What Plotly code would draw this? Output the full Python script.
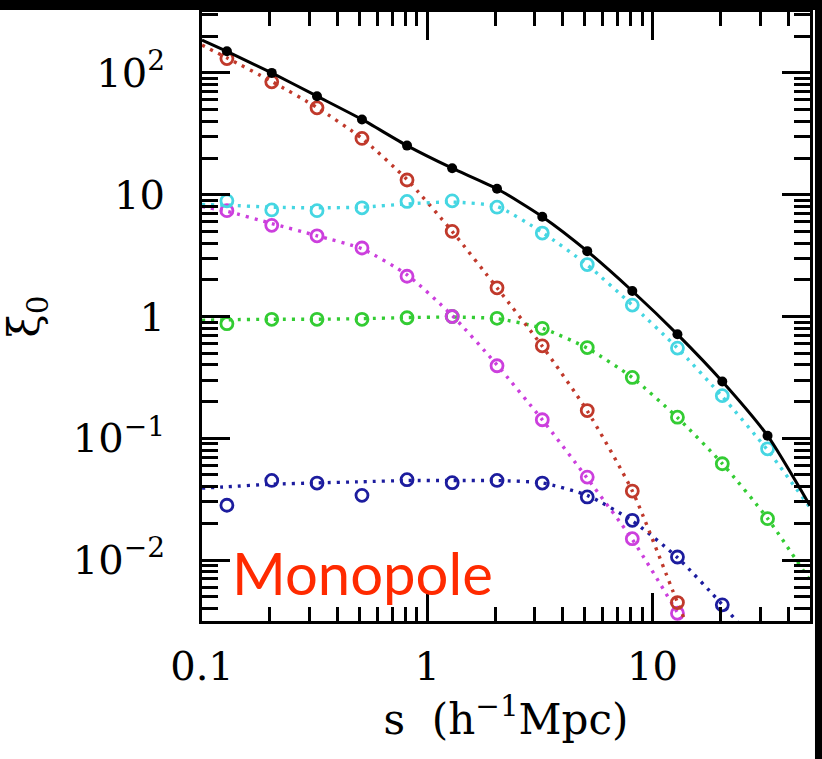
import plotly.graph_objects as go

# Separation bins (h^-1 Mpc)
s_pts = [0.129, 0.204, 0.324, 0.513, 0.813, 1.29, 2.04, 3.24, 5.13, 8.13, 12.9, 20.4, 32.4]
# Grid for the model curves (extends to the axis limits)
s_model = [0.1, 0.129, 0.204, 0.324, 0.513, 0.813, 1.29, 2.04, 3.24, 5.13, 8.13, 12.9, 20.4, 32.4, 50]

# Measured monopole, total and components
xi_total = [150.6, 100, 64.4, 41.5, 25.3, 16.5, 11.2, 6.6, 3.44, 1.62, 0.714, 0.293, 0.105]
xi_red = [131, 84.4, 51.7, 29.0, 13.2, 5.0, 1.72, 0.574, 0.169, 0.0369, 0.00448]
xi_cyan = [8.9, 7.5, 7.4, 7.8, 8.8, 8.9, 7.9, 4.84, 2.67, 1.24, 0.55, 0.224, 0.082]
xi_magenta = [7.4, 5.6, 4.6, 3.65, 2.14, 1.0, 0.394, 0.142, 0.048, 0.0150, 0.00366]
xi_green = [0.873, 0.948, 0.948, 0.948, 0.977, 1.0, 0.966, 0.80, 0.556, 0.316, 0.149, 0.0618, 0.0219]
xi_blue = [0.0282, 0.0451, 0.0429, 0.034, 0.0457, 0.0432, 0.0451, 0.0429, 0.033, 0.0212, 0.0106, 0.00429]

# Model curves on s_model
mod_total = [186, 150, 100, 64.4, 41.5, 25.3, 16.5, 11.2, 6.6, 3.44, 1.62, 0.714, 0.293, 0.105, 0.028]
mod_red = [169, 133, 85, 52, 29, 13.3, 5.0, 1.72, 0.57, 0.168, 0.037, 0.0045, 0.0006]
mod_cyan = [8.3, 8.2, 7.9, 7.8, 7.9, 8.4, 8.7, 8.0, 4.9, 2.65, 1.24, 0.55, 0.22, 0.08, 0.027]
mod_magenta = [8.0, 7.3, 5.8, 4.6, 3.6, 2.2, 1.02, 0.4, 0.142, 0.047, 0.0148, 0.0037, 0.0008]
mod_green = [0.93, 0.94, 0.95, 0.95, 0.96, 0.98, 0.99, 0.96, 0.80, 0.55, 0.315, 0.148, 0.062, 0.022, 0.0068]
mod_blue = [0.039, 0.040, 0.042, 0.043, 0.044, 0.045, 0.045, 0.045, 0.043, 0.034, 0.021, 0.0105, 0.0043, 0.0016]

x_major = [0.1, 1, 10]
x_major_text = ["0.1", "1", "10"]
x_minor = [0.2, 0.3, 0.4, 0.5, 0.6, 0.7, 0.8, 0.9, 2, 3, 4, 5, 6, 7, 8, 9, 20, 30, 40]
y_major = [0.01, 0.1, 1, 10, 100]
y_major_text = ["10<sup>−2</sup>", "10<sup>−1</sup>", "1", "10", "10<sup>2</sup>"]
y_minor = [0.004, 0.005, 0.006, 0.007, 0.008, 0.009,
           0.02, 0.03, 0.04, 0.05, 0.06, 0.07, 0.08, 0.09,
           0.2, 0.3, 0.4, 0.5, 0.6, 0.7, 0.8, 0.9,
           2, 3, 4, 5, 6, 7, 8, 9,
           20, 30, 40, 50, 60, 70, 80, 90, 200, 300]

components = [
    ("blue", "#1c1c9e", xi_blue, mod_blue),
    ("green", "#33cc33", xi_green, mod_green),
    ("magenta", "#cc3fdd", xi_magenta, mod_magenta),
    ("red", "#c0392b", xi_red, mod_red),
    ("cyan", "#45d6e2", xi_cyan, mod_cyan),
]

fig = go.Figure()
for name, col, pts, mod in components:
    fig.add_trace(go.Scatter(
        x=s_model[:len(mod)], y=mod, mode="lines", name=name + " model",
        line=dict(color=col, width=3.4, dash="3px,6px", shape="spline", smoothing=0.6),
        showlegend=False, hoverinfo="skip"))
    fig.add_trace(go.Scatter(
        x=s_pts[:len(pts)], y=pts, mode="markers", name=name,
        marker=dict(symbol="circle-open", size=12, color=col, line=dict(width=2.8)),
        showlegend=False))

fig.add_trace(go.Scatter(
    x=s_model, y=mod_total, mode="lines", name="total model",
    line=dict(color="black", width=3, shape="spline", smoothing=0.6),
    showlegend=False, hoverinfo="skip"))
fig.add_trace(go.Scatter(
    x=s_pts, y=xi_total, mode="markers", name="total",
    marker=dict(symbol="circle", size=10, color="black"),
    showlegend=False))

tick_font = dict(family="DejaVu Serif", size=40, color="black")

fig.update_xaxes(
    type="log", range=[-1, 1.69897],
    tickmode="array", tickvals=x_major, ticktext=x_major_text,
    ticks="inside", ticklen=28, tickwidth=2.5, tickcolor="black",
    minor=dict(tickmode="array", tickvals=x_minor, ticks="inside",
               ticklen=14, tickwidth=2.5, tickcolor="black", showgrid=False),
    showline=True, linewidth=3, linecolor="black", mirror="allticks",
    showgrid=False, zeroline=False,
    tickfont=tick_font, ticklabelstandoff=8,
    title=dict(text="s  (h<sup>−1</sup>Mpc)",
               font=dict(family="DejaVu Serif", size=42, color="black"),
               standoff=14),
)
fig.update_yaxes(
    type="log", range=[-2.5, 2.5],
    tickmode="array", tickvals=y_major, ticktext=y_major_text,
    ticks="inside", ticklen=28, tickwidth=2.5, tickcolor="black",
    minor=dict(tickmode="array", tickvals=y_minor, ticks="inside",
               ticklen=16, tickwidth=2.5, tickcolor="black", showgrid=False),
    showline=True, linewidth=3, linecolor="black", mirror="allticks",
    showgrid=False, zeroline=False,
    tickfont=tick_font, ticklabelstandoff=26,
    title=dict(text="ξ<sub>0</sub>",
               font=dict(family="DejaVu Serif", size=42, color="black"),
               standoff=34),
)

fig.add_annotation(
    text="Monopole", xref="paper", yref="paper", x=0.046, y=0.080,
    xanchor="left", yanchor="middle", showarrow=False,
    font=dict(family="Lato", size=58, color="#ff2a00"))

# dark borders along the top and right edges of the page
fig.add_shape(type="rect", xref="paper", yref="paper", x0=-0.4, x1=1.05,
              y0=1.0033, y1=1.03, fillcolor="black", line_width=0, layer="above")
fig.add_shape(type="rect", xref="paper", yref="paper", x0=1.0082, x1=1.05,
              y0=-0.3, y1=1.03, fillcolor="black", line_width=0, layer="above")

fig.update_layout(
    width=822, height=759,
    margin=dict(l=202, r=9, t=10, b=138),
    paper_bgcolor="white", plot_bgcolor="white",
    showlegend=False,
)

fig.write_html("out.html")
